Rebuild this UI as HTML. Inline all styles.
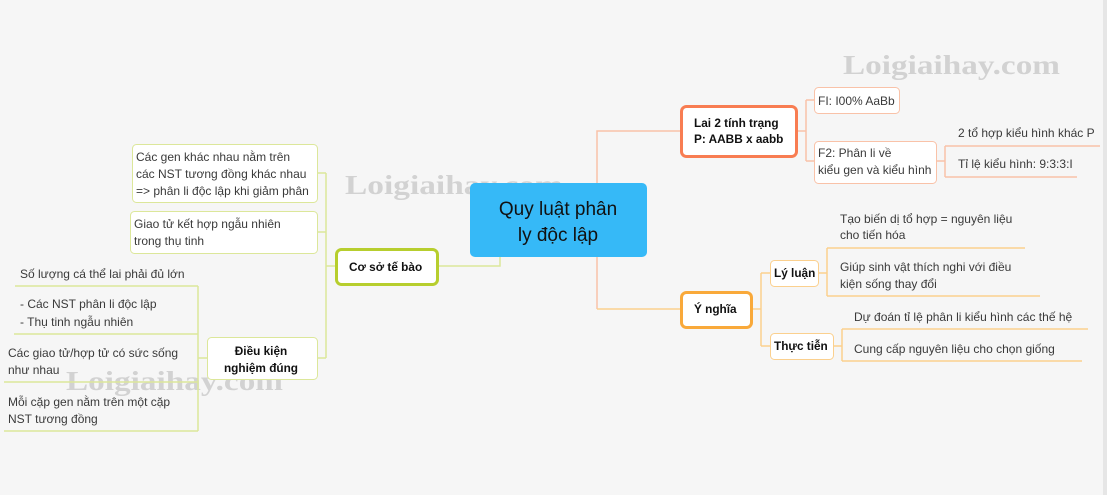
<!DOCTYPE html>
<html><head><meta charset="utf-8"><style>
html,body{margin:0;padding:0;background:#f6f6f6;}
svg{display:block}
text{font-family:"Liberation Sans","DejaVu Sans",sans-serif;font-size:12px;fill:#3a3a3a}
.b{font-weight:bold;fill:#111;font-size:11.8px}
.wm{font-family:"Liberation Serif",serif;font-weight:bold;font-size:27px;fill:#d2d2d2}
</style></head><body>
<svg width="1107" height="495" viewBox="0 0 1107 495" xmlns="http://www.w3.org/2000/svg">
<rect x="0" y="0" width="1107" height="495" fill="#f6f6f6"/>
<rect x="1103" y="0" width="4" height="495" fill="#e6e6e6"/>
<!-- watermarks -->
<text class="wm" x="843" y="74" textLength="217" lengthAdjust="spacingAndGlyphs">Loigiaihay.com</text>
<text class="wm" x="345" y="194" textLength="218" lengthAdjust="spacingAndGlyphs">Loigiaihay.com</text>
<text class="wm" x="66" y="390" textLength="217" lengthAdjust="spacingAndGlyphs">Loigiaihay.com</text>

<!-- right connectors -->
<g fill="none" stroke="#f9c2a8" stroke-width="1.5">
<path d="M680 131 H597 V309"/>
<path d="M797 131 H806 M806 100 V161 M806 100 H814 M806 161 H814"/>
<path d="M936 161 H945 M945 146 V177 M945 146 H1100 M945 177 H1077"/>
</g>
<g fill="none" stroke="#fbd08e" stroke-width="1.5">
<path d="M597 309 H680"/>
<path d="M752 309 H761 M761 273 V346 M761 273 H770 M761 346 H770"/>
<path d="M818 273 H827 M827 248 V296 M827 248 H1025 M827 296 H1040"/>
<path d="M833 346 H842 M842 329 V361 M842 329 H1088 M842 361 H1082"/>
</g>
<g fill="none" stroke="#dce79a" stroke-width="1.5">
<path d="M500 257 V266 H438"/>
<path d="M335 266 H326 M326 173 V358 M326 173 H317 M326 232 H317 M326 358 H317"/>
<path d="M207 358 H198 M198 286 V431 M198 286 H15 M198 334 H14 M198 382 H4 M198 431 H4"/>
</g>

<!-- central -->
<rect x="470" y="183" width="177" height="74" rx="5" fill="#36b9f7"/>
<text x="558" y="215" text-anchor="middle" style="font-size:19px;fill:#111">Quy luật phân</text>
<text x="558" y="241" text-anchor="middle" style="font-size:19px;fill:#111">ly độc lập</text>

<!-- Lai 2 -->
<rect x="681.5" y="106.5" width="115" height="50" rx="5" fill="#fff" stroke="#f87d52" stroke-width="3"/>
<text class="b" x="694" y="127">Lai 2 tính trạng</text>
<text class="b" x="694" y="143">P: AABB x aabb</text>
<rect x="814.5" y="87.5" width="85" height="26" rx="4" fill="#fff" stroke="#f9c2a8"/>
<text x="818" y="105">FI: I00% AaBb</text>
<rect x="814.5" y="141.5" width="122" height="42" rx="4" fill="#fff" stroke="#f9c2a8"/>
<text x="818" y="157">F2: Phân li về</text>
<text x="818" y="174">kiểu gen và kiểu hình</text>
<text x="958" y="137">2 tổ hợp kiểu hình khác P</text>
<text x="958" y="168">Tỉ lệ kiểu hình: 9:3:3:I</text>

<!-- Y nghia -->
<rect x="681.5" y="292.5" width="70" height="35" rx="5" fill="#fff" stroke="#f9a93a" stroke-width="3"/>
<text class="b" x="694" y="313">Ý nghĩa</text>
<rect x="770.5" y="260.5" width="48" height="26" rx="4" fill="#fff" stroke="#fbd08e"/>
<text class="b" x="774" y="277">Lý luận</text>
<rect x="770.5" y="333.5" width="63" height="26" rx="4" fill="#fff" stroke="#fbd08e"/>
<text class="b" x="774" y="350">Thực tiễn</text>
<text x="840" y="223">Tạo biến dị tổ hợp = nguyên liệu</text>
<text x="840" y="239">cho tiến hóa</text>
<text x="840" y="271">Giúp sinh vật thích nghi với điều</text>
<text x="840" y="288">kiện sống thay đổi</text>
<text x="854" y="321">Dự đoán tỉ lệ phân li kiểu hình các thế hệ</text>
<text x="854" y="353">Cung cấp nguyên liệu cho chọn giống</text>

<!-- left -->
<rect x="336.5" y="249.5" width="101" height="35" rx="5" fill="#fff" stroke="#b7ce2e" stroke-width="3"/>
<text class="b" x="349" y="271">Cơ sở tế bào</text>
<rect x="132.5" y="144.5" width="185" height="58" rx="4" fill="#fff" stroke="#dce79a"/>
<text x="136" y="161">Các gen khác nhau nằm trên</text>
<text x="136" y="178">các NST tương đồng khác nhau</text>
<text x="136" y="195">=&gt; phân li độc lập khi giảm phân</text>
<rect x="130.5" y="211.5" width="187" height="42" rx="4" fill="#fff" stroke="#dce79a"/>
<text x="134" y="228">Giao tử kết hợp ngẫu nhiên</text>
<text x="134" y="245">trong thụ tinh</text>
<rect x="207.5" y="337.5" width="110" height="42" rx="4" fill="#fff" stroke="#dce79a"/>
<text class="b" x="261" y="355" text-anchor="middle">Điều kiện</text>
<text class="b" x="261" y="372" text-anchor="middle">nghiệm đúng</text>
<text x="20" y="278">Số lượng cá thể lai phải đủ lớn</text>
<text x="20" y="308">- Các NST phân li độc lập</text>
<text x="20" y="326">- Thụ tinh ngẫu nhiên</text>
<text x="8" y="357">Các giao tử/hợp tử có sức sống</text>
<text x="8" y="374">như nhau</text>
<text x="8" y="406">Mỗi cặp gen nằm trên một cặp</text>
<text x="8" y="423">NST tương đồng</text>
</svg>
</body></html>
